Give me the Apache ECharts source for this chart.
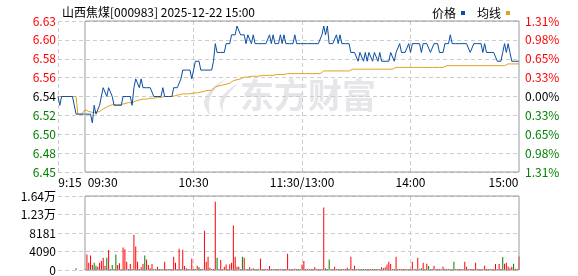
<!DOCTYPE html>
<html><head><meta charset="utf-8">
<script src="https://cdn.jsdelivr.net/npm/echarts@6/dist/echarts.min.js"></script>
<style>html,body{margin:0;padding:0;background:#fff}#c{width:578px;height:276px}</style>
</head><body><div id="c"></div>
<script>
const FONT = '"Noto Sans CJK SC", "Noto Sans", sans-serif';
const titleText = '山西焦煤[000983] 2025-12-22 15:00';
const legendNames = ['价格', '均线'];
const watermarkText = '东方财富';

// 9:15-9:29 call auction
const prePrice = [6.54,6.53,6.54,6.54,6.54,6.54,6.54,6.54,6.54,6.54,6.52,6.52,6.52,6.52,6.52];
const preAvg   = [6.54,6.54,6.54,6.54,6.54,6.54,6.54,6.54,6.54,6.54,6.54,6.52,6.52,6.52,6.52];
const preVolume = ['-','-','-','-','-','-','-','-','-','-',400,'-','-','-','-'];
const preVolDir = [0,0,0,0,0,0,0,0,0,0,-1,0,0,0,0];

// 9:30-11:30, 13:01-15:00 (241 minutes)
const price = [
6.52,6.52,6.52,6.52,6.51,6.53,6.52,6.52,6.53,6.54,
6.55,6.55,6.54,6.55,6.55,6.54,6.53,6.53,6.53,6.53,
6.53,6.54,6.54,6.54,6.54,6.54,6.53,6.55,6.56,6.56,
6.55,6.56,6.55,6.55,6.55,6.55,6.55,6.55,6.54,6.54,
6.54,6.54,6.54,6.55,6.54,6.54,6.54,6.54,6.54,6.55,
6.55,6.55,6.55,6.56,6.57,6.57,6.57,6.57,6.57,6.56,
6.57,6.58,6.58,6.58,6.57,6.57,6.57,6.57,6.57,6.57,
6.57,6.58,6.60,6.59,6.59,6.59,6.59,6.59,6.60,6.60,
6.60,6.61,6.61,6.61,6.62,6.62,6.61,6.61,6.61,6.60,
6.61,6.61,6.60,6.61,6.60,6.60,6.60,6.60,6.60,6.60,
6.60,6.60,6.61,6.60,6.61,6.60,6.60,6.60,6.61,6.60,
6.61,6.60,6.60,6.60,6.60,6.60,6.61,6.60,6.60,6.60,
6.60,6.60,6.60,6.60,6.60,6.60,6.60,6.60,6.60,6.60,
6.60,6.61,6.62,6.61,6.62,6.60,6.60,6.60,6.60,6.61,
6.60,6.61,6.60,6.60,6.60,6.60,6.60,6.59,6.59,6.59,
6.59,6.58,6.59,6.59,6.58,6.59,6.58,6.59,6.59,6.58,
6.59,6.59,6.58,6.59,6.58,6.58,6.58,6.58,6.58,6.59,
6.59,6.58,6.59,6.59,6.60,6.59,6.59,6.59,6.59,6.60,
6.59,6.60,6.60,6.60,6.60,6.60,6.59,6.60,6.60,6.60,
6.60,6.59,6.59,6.60,6.60,6.60,6.59,6.59,6.59,6.60,
6.60,6.60,6.61,6.60,6.60,6.60,6.60,6.60,6.60,6.60,
6.60,6.60,6.60,6.59,6.59,6.60,6.60,6.60,6.60,6.60,
6.59,6.60,6.59,6.59,6.59,6.59,6.59,6.59,6.58,6.58,
6.58,6.59,6.60,6.59,6.60,6.59,6.58,6.58,6.58,6.58,6.58
];
const avgPrice = [
6.525,6.524,6.523,6.523,6.522,6.522,6.522,6.522,6.523,6.524,
6.526,6.527,6.528,6.529,6.530,6.530,6.531,6.531,6.531,6.531,
6.531,6.532,6.532,6.533,6.533,6.533,6.533,6.534,6.535,6.535,
6.536,6.536,6.537,6.537,6.537,6.538,6.538,6.538,6.538,6.539,
6.539,6.539,6.539,6.539,6.540,6.540,6.540,6.540,6.540,6.541,
6.541,6.541,6.542,6.542,6.543,6.543,6.543,6.543,6.543,6.544,
6.544,6.544,6.544,6.544,6.545,6.545,6.546,6.547,6.547,6.547,
6.547,6.548,6.551,6.552,6.552,6.553,6.553,6.553,6.554,6.554,
6.555,6.556,6.558,6.559,6.559,6.559,6.560,6.561,6.562,6.562,
6.562,6.562,6.563,6.563,6.563,6.563,6.563,6.564,6.564,6.564,
6.564,6.564,6.564,6.564,6.564,6.565,6.565,6.565,6.565,6.565,
6.565,6.565,6.566,6.566,6.566,6.566,6.566,6.566,6.566,6.566,
6.566,6.566,6.566,6.566,6.566,6.566,6.566,6.566,6.566,6.566,
6.566,6.566,6.569,6.569,6.569,6.569,6.569,6.569,6.569,6.569,
6.569,6.569,6.569,6.569,6.569,6.569,6.569,6.570,6.571,6.571,
6.571,6.571,6.571,6.571,6.571,6.571,6.571,6.571,6.571,6.571,
6.571,6.571,6.571,6.571,6.571,6.571,6.571,6.571,6.571,6.571,
6.571,6.572,6.573,6.573,6.573,6.573,6.573,6.573,6.573,6.573,
6.573,6.573,6.573,6.573,6.573,6.573,6.573,6.573,6.573,6.573,
6.573,6.573,6.573,6.573,6.573,6.573,6.573,6.573,6.573,6.575,
6.575,6.575,6.575,6.575,6.575,6.575,6.575,6.575,6.575,6.575,
6.575,6.575,6.575,6.575,6.575,6.575,6.575,6.575,6.575,6.575,
6.575,6.575,6.575,6.575,6.575,6.575,6.575,6.575,6.575,6.575,
6.575,6.575,6.575,6.577,6.577,6.577,6.577,6.577,6.577,6.577,6.577
];
const volume = [
200,3400,1600,3200,1100,1600,950,700,1600,2000,
2700,900,2700,4400,200,1100,200,3400,1100,1500,
200,4950,4600,1850,200,1300,200,7800,5200,1850,
200,600,1300,3200,2300,1100,400,1300,200,200,
740,200,200,200,1850,200,200,200,200,2950,
1600,200,4700,200,4500,900,400,200,200,2500,
200,200,950,600,200,200,8700,1850,2950,500,
200,200,15100,2700,200,2200,200,740,1200,200,
1250,1600,9850,2950,740,740,200,2950,2700,200,
200,600,200,400,200,200,200,2500,200,200,
200,200,900,200,200,200,200,200,200,200,
200,200,3600,200,200,200,300,200,200,200,
1200,2000,200,200,200,200,200,600,200,200,
200,200,13800,370,200,2300,200,200,740,200,
200,200,200,200,200,500,200,2950,200,950,
200,200,200,200,200,200,200,200,200,200,
200,200,200,200,600,400,600,1200,1850,1300,
200,200,2950,200,200,200,200,200,200,200,
200,1850,200,200,2700,200,370,1600,200,1400,
900,200,200,950,200,200,200,200,740,200,
200,200,200,200,1800,200,200,200,200,200,
1850,740,200,200,200,200,1600,200,200,200,
200,950,200,200,200,200,200,1300,200,1300,
200,2900,1400,1600,800,400,700,1400,300,200,3000
];
// 1 = up (red), -1 = down (green)
const volDir = [
1,1,1,1,1,-1,-1,1,1,1,
1,1,-1,1,1,-1,1,-1,1,1,
1,1,1,1,1,1,-1,1,1,1,
1,1,1,-1,1,1,1,1,-1,-1,
1,1,-1,1,1,1,1,1,1,1,
1,1,1,1,1,1,1,-1,1,1,
1,1,1,-1,1,1,1,1,1,1,
1,1,1,-1,1,1,1,1,1,1,
1,1,1,1,1,1,1,-1,1,1,
-1,1,1,1,-1,-1,1,1,1,1,
1,1,1,1,-1,1,1,-1,1,1,
1,-1,1,1,1,1,1,1,-1,1,
1,1,1,1,1,1,1,1,1,1,
1,1,1,-1,1,-1,1,1,1,1,
-1,1,1,-1,1,1,1,1,1,1,
-1,1,-1,1,-1,1,-1,1,1,-1,
1,1,-1,1,1,1,1,1,1,1,
1,1,1,1,1,1,1,1,1,1,
1,1,1,1,1,1,-1,1,1,1,
-1,-1,1,1,1,1,1,1,1,1,
1,1,1,-1,-1,1,1,1,1,1,
1,1,1,1,1,1,1,1,1,1,
1,1,1,1,1,1,1,1,1,1,
1,-1,1,1,1,1,1,-1,1,1,1
];

const prevClose = 6.54;
const priceMin = 6.4543, priceMax = 6.6257, priceStep = 0.021425;
const priceTickLabels = ['6.45','6.48','6.50','6.52','6.54','6.56','6.58','6.60','6.63'];
const pctTickLabels = ['1.31%','0.98%','0.65%','0.33%','0.00%','0.33%','0.65%','0.98%','1.31%'];
const volMax = 16362, volStep = 4090.5;
const volTickLabels = ['0','4090','8181','1.23万','1.64万'];
const timeTickAt = ['09:15','09:30','10:30','11:30','14:00','15:00'];
const timeTickLabels = ['9:15','09:30','10:30','11:30/13:00','14:00','15:00'];

// minute categories
const pad = n => (n < 10 ? '0' : '') + n;
const fmt = m => pad(Math.floor(m / 60)) + ':' + pad(m % 60);
const cats = [];
for (let m = 9 * 60 + 15; m <= 11 * 60 + 30; m++) cats.push(fmt(m));
for (let m = 13 * 60 + 1; m <= 15 * 60; m++) cats.push(fmt(m));

const priceData = prePrice.concat(price);
const avgData = preAvg.concat(avgPrice);
const volData = preVolume.concat(volume);
const dirData = preVolDir.concat(volDir);

const tickIdx = timeTickAt.map(t => cats.indexOf(t));
const priceSplitIdx = new Set([tickIdx[0], tickIdx[2], tickIdx[3], tickIdx[4]]);
const volSplitIdx = new Set([tickIdx[2], tickIdx[3], tickIdx[4]]);
const labelIdx = new Set(tickIdx);

const RED = '#ff0000', GREEN = '#008000';
const labelColor = (v, i) => (i < 4 ? GREEN : i === 4 ? '#000' : RED);
const dash = { color: '#cccccc', type: [4, 3], width: 1 };
const WM = '#e6e6ea';

const chart = echarts.init(document.getElementById('c'), null, { renderer: 'canvas' });
chart.setOption({
  animation: false,
  backgroundColor: '#fff',
  textStyle: { fontFamily: FONT },
  title: {
    text: titleText, left: 57, top: 1,
    textStyle: { fontSize: 12, fontWeight: 'normal', color: '#000', fontFamily: FONT }
  },
  legend: {
    data: legendNames.map(n => ({ name: n, icon: 'rect' })),
    right: 63, top: 2, align: 'right', itemWidth: 4, itemHeight: 4, itemGap: 12,
    textStyle: { fontSize: 12, color: '#000', fontFamily: FONT }
  },
  graphic: {
    elements: [
      {
        type: 'text', left: 240, top: 78, z: -10, silent: true,
        style: { text: watermarkText, font: 'bold 34px "Noto Sans CJK SC"', fill: WM }
      },
      {
        type: 'polygon', z: -10, silent: true,
        shape: { smooth: 0.4, points: [[226,79],[216,85],[207,95],[204,104],[210,115],[209,106],[211,96],[217,87]] },
        style: { fill: WM }
      },
      {
        type: 'polygon', z: -10, silent: true,
        shape: { smooth: 0.4, points: [[237,84],[227,91],[220,101],[223,113],[223,105],[227,96]] },
        style: { fill: WM }
      }
    ]
  },
  grid: [
    { left: 58, right: 59, top: 21, bottom: 104 },
    { left: 58, right: 59, top: 196, bottom: 6 },
    { left: 85, right: 59, top: 21, bottom: 104, show: true, borderColor: '#999', borderWidth: 1, backgroundColor: 'transparent', z: 5 },
    { left: 85, right: 59, top: 196, bottom: 6, show: true, borderColor: '#999', borderWidth: 1, backgroundColor: 'transparent', z: 5 }
  ],
  xAxis: [
    {
      type: 'category', gridIndex: 0, data: cats, boundaryGap: false,
      axisLine: { show: false }, axisTick: { show: false },
      splitLine: { show: true, interval: i => priceSplitIdx.has(i), lineStyle: dash },
      axisLabel: {
        interval: i => labelIdx.has(i), showMinLabel: true, showMaxLabel: true,
        margin: 4, fontSize: 12, color: '#000', fontFamily: FONT,
        formatter: (v, i) => {
          const k = tickIdx.indexOf(i);
          if (k < 0) return '';
          const t = timeTickLabels[k];
          if (k === 0) return '{a|' + t + '}';
          if (k === 1) return '{b|' + t + '}';
          if (k === 5) return '{c|' + t + '}';
          return '{d|' + t + '}';
        },
        rich: {
          a: { padding: [0, 0, 0, 24], fontSize: 12, color: '#000', fontFamily: FONT },
          b: { padding: [0, 0, 0, 35], fontSize: 12, color: '#000', fontFamily: FONT },
          c: { padding: [0, 31, 0, 0], fontSize: 12, color: '#000', fontFamily: FONT },
          d: { fontSize: 12, color: '#000', fontFamily: FONT }
        }
      }
    },
    {
      type: 'category', gridIndex: 1, data: cats, boundaryGap: false,
      axisLine: { show: false }, axisTick: { show: false }, axisLabel: { show: false },
      splitLine: { show: true, interval: i => volSplitIdx.has(i), lineStyle: dash }
    },
    { type: 'value', gridIndex: 2, show: false },
    { type: 'value', gridIndex: 3, show: false }
  ],
  yAxis: [
    {
      type: 'value', gridIndex: 0, position: 'left', min: priceMin, max: priceMax, interval: priceStep,
      axisLine: { show: false }, axisTick: { show: false },
      splitLine: { show: true, lineStyle: dash },
      axisLabel: { margin: 2, fontSize: 12, fontFamily: FONT, color: labelColor, formatter: (v, i) => priceTickLabels[i] }
    },
    {
      type: 'value', gridIndex: 0, position: 'right', min: priceMin, max: priceMax, interval: priceStep,
      axisLine: { show: false }, axisTick: { show: false }, splitLine: { show: false },
      axisLabel: { margin: 6, fontSize: 12, fontFamily: FONT, color: labelColor, formatter: (v, i) => pctTickLabels[i] }
    },
    {
      type: 'value', gridIndex: 1, min: 0, max: volMax, interval: volStep,
      axisLine: { show: false }, axisTick: { show: false },
      splitLine: { show: true, lineStyle: dash },
      axisLabel: { margin: 2, fontSize: 12, fontFamily: FONT, color: '#000', formatter: (v, i) => volTickLabels[i] }
    },
    { type: 'value', gridIndex: 2, show: false },
    { type: 'value', gridIndex: 3, show: false }
  ],
  series: [
    {
      name: legendNames[1], type: 'line', xAxisIndex: 0, yAxisIndex: 0, data: avgData,
      showSymbol: false, symbol: 'none', color: '#e0a21e',
      lineStyle: { width: 1, color: '#e0a21e' }, z: 3
    },
    {
      name: legendNames[0], type: 'line', xAxisIndex: 0, yAxisIndex: 0, data: priceData,
      showSymbol: false, symbol: 'none', color: '#0b4ea2',
      lineStyle: { width: 1, color: '#0b4ea2' }, z: 4
    },
    {
      name: 'vol', type: 'bar', xAxisIndex: 1, yAxisIndex: 2, data: volData, barWidth: 1,
      itemStyle: { color: p => (dirData[p.dataIndex] < 0 ? GREEN : RED) }
    }
  ]
});
</script>
</body></html>
